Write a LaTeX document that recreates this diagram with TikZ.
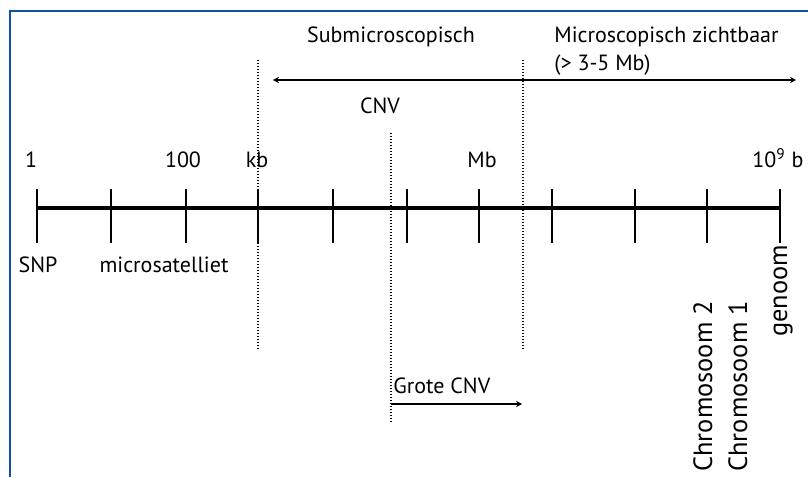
\documentclass[tikz,border=0pt]{standalone}
\usepackage{fontspec}
\setmainfont{PT Sans}
\usetikzlibrary{arrows.meta}

\definecolor{framblue}{RGB}{20,80,155}

\tikzset{
  lbl/.style={anchor=base, inner sep=0pt, font=\fontsize{11}{13}\selectfont},
  vlbl/.style={lbl, anchor=base west, rotate=90, font=\fontsize{13.2}{15}\selectfont},
  tick/.style={line width=0.8pt},
  grens/.style={line width=0.6pt, dotted, dash pattern=on 0.5pt off 1pt},
  pijl/.style={line width=0.65pt, -{Stealth[length=3pt,width=3.2pt]}},
  dpijl/.style={line width=0.65pt, {Stealth[length=3pt,width=3.2pt]}-{Stealth[length=3pt,width=3.2pt]}}
}

\begin{document}
\begin{tikzpicture}[x=0.5pt, y=-0.5pt]

        \useasboundingbox (0,0) rectangle (808,477);

        % frame
        \coordinate (fl) at (10,477);
        \coordinate (fc) at (10,11);
        \coordinate (fr) at (808,11);
        \draw [framblue, line width=1.1pt] (fl) -- (fc) -- (fr);

        % axis
        \coordinate (as) at (38,208);
        \coordinate (ae) at (780,208);
        \draw [line width=1.9pt] (as) -- (ae);

        \foreach \x in {37,111,186,258,333,407,479,552,635,707,780}
        {
            \coordinate (t\x a) at (\x,189);
            \coordinate (t\x b) at (\x,243);
            \draw [tick] (t\x a) -- (t\x b);
        }

        % boundaries
        \coordinate (kbt) at (258,60);
        \coordinate (kbb) at (258,350);
        \coordinate (cnvt) at (391,133);
        \coordinate (cnvb) at (391,422);
        \coordinate (mbt) at (523,60);
        \coordinate (mbb) at (523,350);
        \draw [grens] (kbt) -- (kbb);
        \draw [grens] (cnvt) -- (cnvb);
        \draw [grens] (mbt) -- (mbb);

        % ranges
        \coordinate (cnvl) at (273,80);
        \coordinate (cnvr) at (796,80);
        \draw [dpijl] (cnvl) -- (cnvr);

        \coordinate (gcl) at (391,404);
        \coordinate (gcr) at (522,404);
        \draw [pijl] (gcl) -- (gcr);

        % scale labels
        \node [lbl] (een) at (31,167) {1};
        \node [lbl] (honderd) at (183,167) {100};
        \node [lbl] (kb) at (257,167) {kb};
        \node [lbl] (mb) at (482,167) {Mb};
        \node [lbl] (giga) at (778,167) {10\textsuperscript{9} b};

        \node [lbl] (sub) at (391,42) {Submicroscopisch};
        \node [lbl, anchor=base west] (micro) at (554,42) {Microscopisch zichtbaar};
        \node [lbl, anchor=base west] (micro2) at (554,70) {(> 3-5 Mb)};
        \node [lbl] (cnv) at (380,113) {CNV};

        \node [lbl] (snp) at (38,272) {SNP};
        \node [lbl] (msat) at (164,272) {microsatelliet};
        \node [lbl, anchor=base west] (gcnv) at (393,393) {Grote CNV};

        \node [vlbl] (chr2) at (712,472) {Chromosoom 2};
        \node [vlbl] (chr1) at (747,472) {Chromosoom 1};
        \node [vlbl] (gen) at (787,337) {genoom};

\end{tikzpicture}
\end{document}
